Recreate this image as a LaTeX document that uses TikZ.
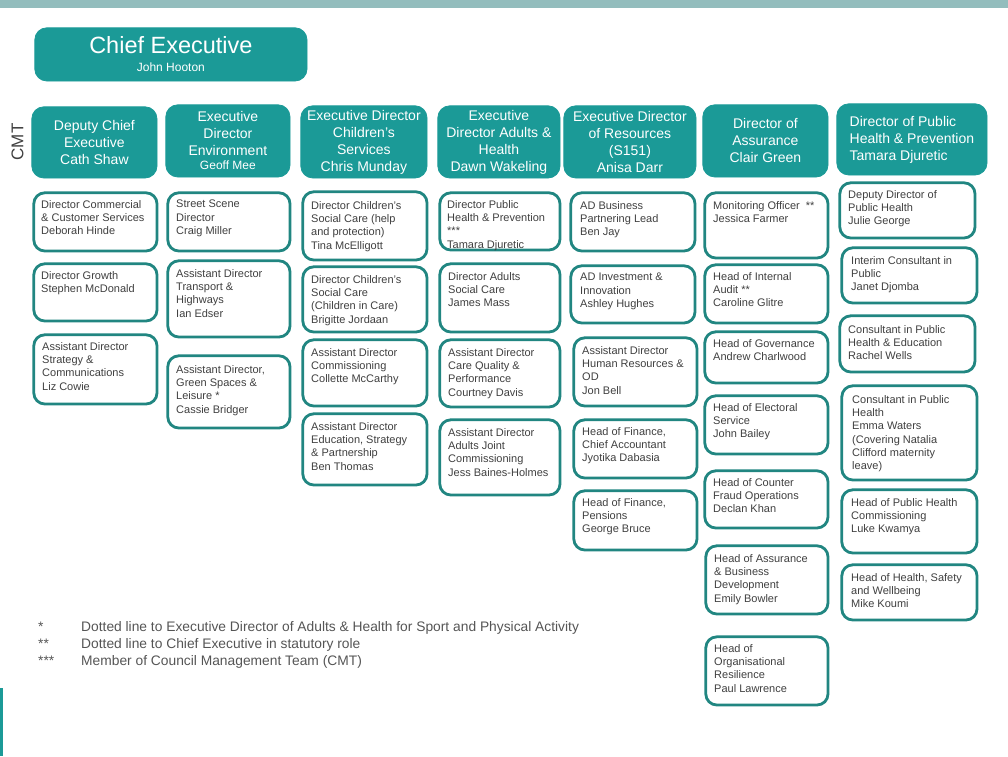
\documentclass[tikz,border=0pt]{standalone}
\usepackage{fontspec}
\setmainfont{Liberation Sans}
\definecolor{teal1}{HTML}{1B9A97}
\definecolor{tealline}{HTML}{218681}
\definecolor{topbar}{HTML}{93BDBD}
\definecolor{txt}{HTML}{404040}
\definecolor{foottxt}{HTML}{555555}
\tikzset{
 hdr/.style={fill=teal1, draw=teal1, line width=0.8pt, rounded corners=12pt, inner sep=0pt, text=white, align=center, font=\fontsize{14}{17}\selectfont},
 rbox/.style={draw=tealline, line width=2.8pt, rounded corners=11pt, fill=white, inner sep=0pt},
 rtxt/.style={inner sep=0pt, anchor=north west, align=left, text=txt, font=\fontsize{11}{13.3}\selectfont},
 foot/.style={inner sep=0pt, anchor=base west, text=foottxt, font=\fontsize{13.8}{17}\selectfont},
}
\newcommand\hdrbox[6]{\node[hdr, minimum width={#4pt-0.8pt}, minimum height={#5pt-0.8pt}, anchor=north west] (#1) at ({#2+0.4},{#3+0.4}) {#6};}
\newcommand\orgbox[8]{%
 \node[rbox, minimum width={#4pt-2.8pt}, minimum height={#5pt-2.8pt}, anchor=north west] (#1) at ({#2+1.4},{#3+1.4}) {};
 \node[rtxt] (#1t) at ({#2+#6},{#3+#7}) {#8};}
\begin{document}
\begin{tikzpicture}[x=1pt,y=-1pt]
\useasboundingbox (0,0) rectangle (1008,756);
\fill[topbar] (0,0) rectangle (1008,8);
\fill[teal1] (0,688) rectangle (2.5,756);
% Chief executive
\node[hdr, minimum width=272.2pt, minimum height=53.2pt, anchor=north west, font=\fontsize{23.5}{28}\selectfont] (ce) at (34.4,27.4) {Chief Executive\\[-10pt]{\fontsize{12}{14}\selectfont John Hooton}};
\node[rotate=90, inner sep=0pt, font=\fontsize{17}{20}\selectfont, text=txt] (cmt) at (17.5,142) {CMT};
% headers
\hdrbox{h1}{31}{106}{126}{72}{Deputy Chief\\Executive\\Cath Shaw}
\hdrbox{h2}{165}{104}{125}{73}{Executive\\Director\\Environment\\[-3pt]{\fontsize{12}{14}\selectfont Geoff Mee}}
\hdrbox{h3}{300}{105}{127}{73}{Executive Director\\Children's\\Services\\Chris Munday}
\hdrbox{h4}{437}{105}{123}{73}{Executive\\Director Adults \&\\Health\\Dawn Wakeling}
\hdrbox{h5}{563}{105}{133}{73}{Executive Director\\of Resources\\(S151)\\Anisa Darr}
\hdrbox{h6}{702}{104}{126}{73}{Director of\\Assurance\\Clair Green}
\node[hdr, align=left, minimum width=150.2pt, minimum height=71.2pt, anchor=north west] (h7) at (836.4,103.4) {Director of Public\\Health \& Prevention\\Tamara Djuretic};
% column 1
\orgbox{c1a}{31}{190}{126}{61}{10}{10}{Director Commercial\\\& Customer Services\\Deborah Hinde}
\orgbox{c1b}{31}{261}{126}{60}{10}{10}{Director Growth\\Stephen McDonald}
\orgbox{c1c}{31}{332}{126}{72}{11}{10}{Assistant Director\\Strategy \&\\Communications\\Liz Cowie}
% column 2
\orgbox{c2a}{165}{190}{125}{61}{11}{10}{Street Scene\\Director\\Craig Miller}
\orgbox{c2b}{165}{258}{125}{79}{11}{11}{Assistant Director\\Transport \&\\Highways\\Ian Edser}
\orgbox{c2c}{165}{353}{125}{75}{11}{12}{Assistant Director,\\Green Spaces \&\\Leisure *\\Cassie Bridger}
% column 3
\orgbox{c3a}{300}{189}{127}{71}{11}{12}{Director Children's\\Social Care (help\\and protection)\\Tina McElligott}
\orgbox{c3b}{300}{264}{127}{68}{11}{11}{Director Children's\\Social Care\\(Children in Care)\\Brigitte Jordaan}
\orgbox{c3c}{300}{337}{127}{69}{11}{11}{Assistant Director\\Commissioning\\Collette McCarthy}
\orgbox{c3d}{300}{411}{127}{74}{11}{11}{Assistant Director\\Education, Strategy\\\& Partnership\\Ben Thomas}
% column 4
\orgbox{c4a}{437}{190}{123}{60}{10}{10}{Director Public\\Health \& Prevention\\***\\Tamara Djuretic}
\orgbox{c4b}{437}{261}{123}{71}{11}{11}{Director Adults\\Social Care\\James Mass}
\orgbox{c4c}{437}{337}{123}{70}{11}{11}{Assistant Director\\Care Quality \&\\Performance\\Courtney Davis}
\orgbox{c4d}{437}{417}{123}{78}{11}{11}{Assistant Director\\Adults Joint\\Commissioning\\Jess Baines-Holmes}
% column 5
\orgbox{c5a}{568}{190}{127}{61}{12}{11}{AD Business\\Partnering Lead\\Ben Jay}
\orgbox{c5b}{568}{263}{127}{60}{12}{10}{AD Investment \&\\Innovation\\Ashley Hughes}
\orgbox{c5c}{571}{335}{126}{71}{11}{11}{Assistant Director\\Human Resources \&\\OD\\Jon Bell}
\orgbox{c5d}{571}{417}{126}{61}{11}{10}{Head of Finance,\\Chief Accountant\\Jyotika Dabasia}
\orgbox{c5e}{571}{488}{126}{62}{11}{10}{Head of Finance,\\Pensions\\George Bruce}
% column 6
\orgbox{c6a}{702}{190}{126}{68}{11}{11}{Monitoring Officer\ \ **\\Jessica Farmer}
\orgbox{c6b}{702}{262}{126}{61}{11}{10}{Head of Internal\\Audit **\\Caroline Glitre}
\orgbox{c6c}{702}{329}{126}{54}{11}{10}{Head of Governance\\Andrew Charlwood}
\orgbox{c6d}{702}{393}{126}{61}{11}{10}{Head of Electoral\\Service\\John Bailey}
\orgbox{c6e}{702}{468}{126}{60}{11}{10}{Head of Counter\\Fraud Operations\\Declan Khan}
\orgbox{c6f}{703}{543}{125}{71}{11}{11}{Head of Assurance\\\& Business\\Development\\Emily Bowler}
\orgbox{c6g}{703}{634}{125}{71}{11}{10}{Head of\\Organisational\\Resilience\\Paul Lawrence}
% column 7
\orgbox{c7a}{837}{180}{138}{58}{11}{10}{Deputy Director of\\Public Health\\Julie George}
\orgbox{c7b}{839}{245}{138}{58}{12}{11}{Interim Consultant in\\Public\\Janet Djomba}
\orgbox{c7c}{837}{313}{138}{59}{11}{12}{Consultant in Public\\Health \& Education\\Rachel Wells}
\orgbox{c7d}{839}{383}{138}{97}{13}{12}{Consultant in Public\\Health\\Emma Waters\\(Covering Natalia\\Clifford maternity\\leave)}
\orgbox{c7e}{839}{487}{138}{66}{12}{11}{Head of Public Health\\Commissioning\\Luke Kwamya}
\orgbox{c7f}{839}{562}{138}{58}{12}{11}{Head of Health, Safety\\and Wellbeing\\Mike Koumi}
% footnotes
\node[foot] (s1) at (38,631) {*};
\node[foot] (f1) at (81,631) {Dotted line to Executive Director of Adults \& Health for Sport and Physical Activity};
\node[foot] (s2) at (38,648) {**};
\node[foot] (f2) at (81,648) {Dotted line to Chief Executive in statutory role};
\node[foot] (s3) at (38,665) {***};
\node[foot] (f3) at (81,665) {Member of Council Management Team (CMT)};
\end{tikzpicture}
\end{document}
